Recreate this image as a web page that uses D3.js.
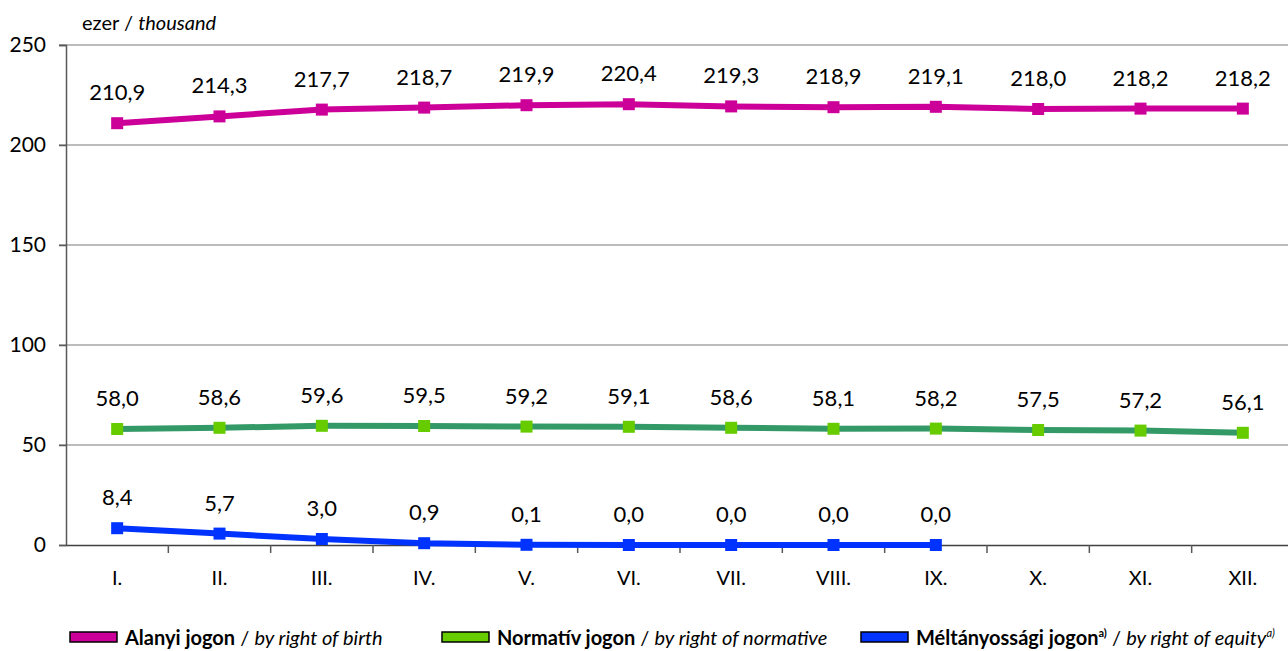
<!DOCTYPE html>
<meta charset="utf-8">
<style>
    body { margin: 0; background: #fff; }
    svg { font-family: Lato, "Open Sans", sans-serif; }
    .grid line { stroke: #a6a6a6; stroke-width: 1.5px; }
</style>
<svg width="1288" height="651"></svg>
<script src="https://cdn.jsdelivr.net/npm/d3@7"></script>
<script>

    var months = ["I.", "II.", "III.", "IV.", "V.", "VI.", "VII.", "VIII.", "IX.", "X.", "XI.", "XII."];
    var birthValues = [210.9, 214.3, 217.7, 218.7, 219.9, 220.4, 219.3, 218.9, 219.1, 218.0, 218.2, 218.2];
    var normativeValues = [58.0, 58.6, 59.6, 59.5, 59.2, 59.1, 58.6, 58.1, 58.2, 57.5, 57.2, 56.1];
    var equityValues = [8.4, 5.7, 3.0, 0.9, 0.1, 0.0, 0.0, 0.0, 0.0];
    var yTicks = [0, 50, 100, 150, 200, 250];

    var series = [
        { name: "birth", values: birthValues, line: "#cc0099", marker: "#cc0099" },
        { name: "normative", values: normativeValues, line: "#339966", marker: "#66cc00" },
        { name: "equity", values: equityValues, line: "#0033ff", marker: "#0033ff" }
    ];

    var svg = d3.select("svg"),
        plotLeft = 66, plotRight = 1294, plotTop = 45, plotBottom = 545;

    var x = d3.scaleBand().domain(months).range([plotLeft, plotRight]);
    var y = d3.scaleLinear().domain([0, 250]).range([plotBottom, plotTop]);

    // gridlines
    svg.append("g")
        .attr("class", "grid")
        .selectAll("line")
        .data(yTicks.filter(function(d) { return d > 0; }))
        .enter()
        .append("line")
        .attr("x1", plotLeft - 7)
        .attr("x2", plotRight)
        .attr("y1", function(d) { return y(d); })
        .attr("y2", function(d) { return y(d); });

    // y axis
    var yAxis = svg.append("g")
        .attr("transform", "translate(" + plotLeft + ",0)")
        .call(d3.axisLeft(y).tickValues(yTicks).tickSize(7).tickPadding(13).tickFormat(d3.format("d")));
    yAxis.select(".domain").attr("stroke", "#595959").attr("stroke-width", 1.5);
    yAxis.selectAll(".tick line").attr("stroke", "#595959").attr("stroke-width", 1.5);
    yAxis.selectAll("text").attr("font-size", 21).attr("fill", "#000").attr("font-family", "Lato");

    // x axis
    var xAxis = svg.append("g")
        .attr("transform", "translate(0," + plotBottom + ")")
        .call(d3.axisBottom(x).tickSize(0).tickPadding(26));
    xAxis.select(".domain").attr("stroke", "#404040").attr("stroke-width", 1.5);
    xAxis.selectAll("text").attr("font-size", 20).attr("fill", "#000").attr("font-family", "Lato");
    xAxis.selectAll(".sep")
        .data(months.slice(1))
        .enter()
        .append("line")
        .attr("x1", function(d) { return x(d); })
        .attr("x2", function(d) { return x(d); })
        .attr("y1", 0)
        .attr("y2", 8)
        .attr("stroke", "#595959")
        .attr("stroke-width", 1.5);

    svg.append("text")
        .attr("x", 82)
        .attr("y", 30)
        .attr("font-size", 20)
        .html("ezer / <tspan font-style='italic'>thousand</tspan>");

    var line = d3.line()
        .x(function(d, i) { return x(months[i]) + x.bandwidth() / 2; })
        .y(function(d) { return y(d); });

    series.forEach(function(s) {
        var g = svg.append("g");
        g.append("path")
            .datum(s.values)
            .attr("d", line)
            .attr("fill", "none")
            .attr("stroke", s.line)
            .attr("stroke-width", 6);
        g.selectAll("rect")
            .data(s.values)
            .enter()
            .append("rect")
            .attr("x", function(d, i) { return x(months[i]) + x.bandwidth() / 2 - 6; })
            .attr("y", function(d) { return y(d) - 6; })
            .attr("width", 12)
            .attr("height", 12)
            .attr("fill", s.marker);
        g.selectAll("text")
            .data(s.values)
            .enter()
            .append("text")
            .attr("x", function(d, i) { return x(months[i]) + x.bandwidth() / 2; })
            .attr("y", function(d) { return y(d) - 23; })
            .attr("text-anchor", "middle")
            .attr("font-size", 22)
            .text(function(d) { return d.toFixed(1).replace(".", ","); });
    });

    // legend
    var legend = [
        { x: 70, color: "#cc0099", bold: "Alanyi jogon", sup: "", italic: "by right of birth", supI: "" },
        { x: 442, color: "#66cc00", bold: "Normatív jogon", sup: "", italic: "by right of normative", supI: "" },
        { x: 861, color: "#0033ff", bold: "Méltányossági jogon", sup: "a)", italic: "by right of equity", supI: "a)" }
    ];
    var lg = svg.selectAll(".legend")
        .data(legend)
        .enter()
        .append("g")
        .attr("transform", function(d) { return "translate(" + d.x + ",632)"; });
    lg.append("rect")
        .attr("width", 47)
        .attr("height", 10)
        .attr("fill", function(d) { return d.color; })
        .attr("stroke", "#000")
        .attr("stroke-width", 1.5);
    var t = lg.append("text")
        .attr("x", 55)
        .attr("y", 13)
        .attr("font-size", 20);
    t.append("tspan").attr("font-weight", "bold").text(function(d) { return d.bold; });
    t.append("tspan").attr("font-size", 11).attr("dy", -8).attr("font-weight", "bold").text(function(d) { return d.sup; });
    t.append("tspan").attr("dy", function(d) { return d.sup ? 8 : 0; }).text(" / ");
    t.append("tspan").attr("font-style", "italic").text(function(d) { return d.italic; });
    t.append("tspan").attr("font-size", 11).attr("dy", -8).attr("font-style", "italic").text(function(d) { return d.supI; });

</script>
